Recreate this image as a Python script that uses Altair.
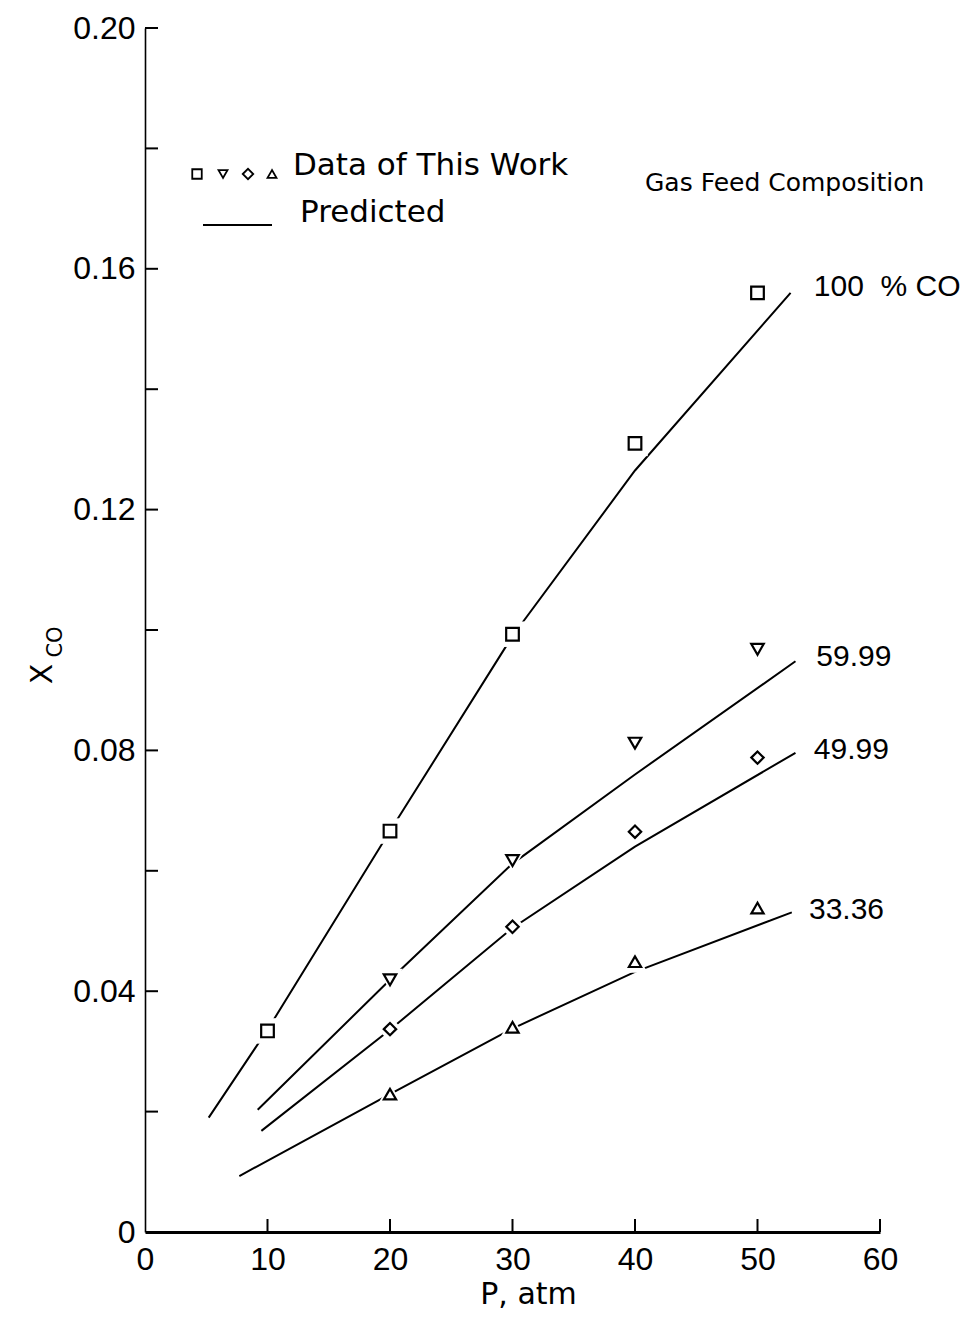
import altair as alt
import pandas as pd

# ---------------- data ----------------
series_names = ["100 % CO", "59.99", "49.99", "33.36"]
series_shapes = ["square", "triangle-down", "diamond", "triangle-up"]
series_sizes = [160, 150, 200, 150]

# measured points (Data of This Work)
obs_P_100 = [10, 20, 30, 40, 50]
obs_X_100 = [0.0334, 0.0666, 0.0993, 0.1310, 0.1560]
obs_P_60 = [20, 30, 40, 50]
obs_X_60 = [0.0419, 0.0617, 0.0812, 0.0968]
obs_P_50 = [20, 30, 40, 50]
obs_X_50 = [0.0337, 0.0507, 0.0665, 0.0788]
obs_P_33 = [20, 30, 40, 50]
obs_X_33 = [0.0229, 0.0340, 0.0449, 0.0538]

# predicted curves
pred_P_100 = [5.2, 10, 20, 30, 40, 52.7]
pred_X_100 = [0.0190, 0.0336, 0.0666, 0.0990, 0.1265, 0.1560]
pred_P_60 = [9.2, 20, 30, 40, 53.1]
pred_X_60 = [0.0203, 0.0419, 0.0612, 0.0760, 0.0948]
pred_P_50 = [9.5, 20, 30, 40, 53.1]
pred_X_50 = [0.0168, 0.0336, 0.0505, 0.0640, 0.0796]
pred_P_33 = [7.7, 20, 30, 40, 52.8]
pred_X_33 = [0.0093, 0.0229, 0.0338, 0.0432, 0.0531]

# curve labels
label_text = ["100 \u00a0% CO", "59.99", "49.99", "33.36"]
label_P = [54.6, 54.8, 54.6, 54.2]
label_X = [0.1570, 0.0955, 0.0800, 0.0535]

# axis ticks
x_tick_values = [0, 10, 20, 30, 40, 50, 60]
x_inner_ticks = [10, 20, 30, 40, 50, 60]
y_label_values = [0, 0.04, 0.08, 0.12, 0.16, 0.20]
y_inner_ticks = [0.02, 0.04, 0.06, 0.08, 0.10, 0.12, 0.14, 0.16, 0.18, 0.20]

legend_data_text = "Data of This Work"
legend_pred_text = "Predicted"
composition_title = "Gas Feed Composition"
x_title = "P, atm"

# ---------------- frames ----------------
obs_sets = [(obs_P_100, obs_X_100), (obs_P_60, obs_X_60), (obs_P_50, obs_X_50), (obs_P_33, obs_X_33)]
pred_sets = [(pred_P_100, pred_X_100), (pred_P_60, pred_X_60), (pred_P_50, pred_X_50), (pred_P_33, pred_X_33)]

obs_rows, pred_rows = [], []
for name, (ps, xs) in zip(series_names, obs_sets):
    for p, x in zip(ps, xs):
        obs_rows.append({"P": p, "XCO": x, "series": name})
for name, (ps, xs) in zip(series_names, pred_sets):
    for i, (p, x) in enumerate(zip(ps, xs)):
        pred_rows.append({"P": p, "XCO": x, "series": name, "order": i})
obs_df = pd.DataFrame(obs_rows)
pred_df = pd.DataFrame(pred_rows)
label_df = pd.DataFrame({"P": label_P, "XCO": label_X, "text": label_text})
xt_df = pd.DataFrame({"P": x_inner_ticks})
yt_df = pd.DataFrame({"XCO": y_inner_ticks})
one = pd.DataFrame({"k": [0]})

W, H = 735, 1204
TOP = 20
NUM_FONT = "Liberation Sans"
TXT_FONT = "DejaVu Sans"

x_enc = alt.X(
    "P:Q",
    scale=alt.Scale(domain=[0, 60], nice=False, zero=False),
    axis=alt.Axis(
        values=x_tick_values, ticks=False, grid=False, format="d",
        labelFont=NUM_FONT, labelFontSize=32, labelPadding=12, labelColor="black",
        labelFlush=False, labelOverlap=False,
        domainColor="black", domainWidth=3,
        title=x_title, titleFont=TXT_FONT, titleFontSize=30, titleFontWeight="normal",
        titleColor="black", titleX=383, titleY=62, titleBaseline="middle", titleAlign="center",
    ),
)
y_enc = alt.Y(
    "XCO:Q",
    scale=alt.Scale(domain=[0, 0.20], nice=False, zero=True),
    axis=alt.Axis(
        values=y_label_values, ticks=False, grid=False,
        labelExpr="datum.value == 0 ? '0' : format(datum.value, '.2f')",
        labelFont=NUM_FONT, labelFontSize=32, labelPadding=10, labelColor="black",
        labelFlush=False, labelOverlap=False, labelBaseline="middle",
        domainColor="black", domainWidth=1.6, title=None,
    ),
)

lines = alt.Chart(pred_df).mark_line(color="black", strokeWidth=2).encode(
    x=x_enc, y=y_enc, detail="series:N", order="order:Q"
)

shape_enc = alt.Shape("series:N", scale=alt.Scale(domain=series_names, range=series_shapes), legend=None)
size_enc = alt.Size("series:N", scale=alt.Scale(domain=series_names, range=series_sizes), legend=None)

halo = alt.Chart(obs_df).mark_point(filled=True, color="white", opacity=1, size=650, strokeWidth=0).encode(
    x="P:Q", y="XCO:Q", shape=shape_enc
)
points = alt.Chart(obs_df).mark_point(filled=False, color="black", strokeWidth=2.2, opacity=1).encode(
    x="P:Q", y="XCO:Q", shape=shape_enc, size=size_enc
)

x_ticks_layer = alt.Chart(xt_df).mark_rule(color="black", strokeWidth=2).encode(
    x="P:Q", y=alt.value(H), y2=alt.value(H - 13)
)
y_ticks_layer = alt.Chart(yt_df).mark_rule(color="black", strokeWidth=2).encode(
    y="XCO:Q", x=alt.value(0), x2=alt.value(13)
)

curve_labels = alt.Chart(label_df).mark_text(
    align="left", baseline="middle", font=NUM_FONT, fontSize=30, color="black"
).encode(x="P:Q", y="XCO:Q", text="text:N")

# legend (drawn)
leg_x = [52, 78, 103, 127]
leg_y = 154 - (TOP - 12)
leg_layers = []
for sx, shp, sz in zip(leg_x, series_shapes, [90, 80, 110, 80]):
    leg_layers.append(
        alt.Chart(one).mark_point(shape=shp, size=sz, filled=False, color="black", strokeWidth=1.8, opacity=1)
        .encode(x=alt.value(sx), y=alt.value(leg_y))
    )
leg_text1 = alt.Chart(one).mark_text(
    align="left", baseline="middle", font=TXT_FONT, fontSize=31, color="black"
).encode(x=alt.value(148), y=alt.value(leg_y - 8), text=alt.value(legend_data_text))
leg_line = alt.Chart(one).mark_rule(color="black", strokeWidth=2).encode(
    x=alt.value(58), x2=alt.value(127), y=alt.value(leg_y + 51)
)
leg_text2 = alt.Chart(one).mark_text(
    align="left", baseline="middle", font=TXT_FONT, fontSize=31, color="black"
).encode(x=alt.value(155), y=alt.value(leg_y + 39), text=alt.value(legend_pred_text))
comp_text = alt.Chart(one).mark_text(
    align="left", baseline="middle", font=TXT_FONT, fontSize=25, color="black"
).encode(x=alt.value(500), y=alt.value(leg_y + 9), text=alt.value(composition_title))

# y-axis title X_CO (rotated, with subscript)
ytitle_x = alt.Chart(one).mark_text(
    angle=270, align="center", baseline="middle", font=TXT_FONT, fontSize=30, color="black"
).encode(x=alt.value(-102), y=alt.value(654 - (TOP - 12)), text=alt.value("X"))
ytitle_co = alt.Chart(one).mark_text(
    angle=270, align="center", baseline="middle", font=TXT_FONT, fontSize=21, color="black"
).encode(x=alt.value(-89), y=alt.value(622 - (TOP - 12)), text=alt.value("CO"))

chart = alt.layer(
    lines, halo, points, x_ticks_layer, y_ticks_layer, curve_labels,
    *leg_layers, leg_text1, leg_line, leg_text2, comp_text, ytitle_x, ytitle_co,
).properties(
    width=W, height=H,
    autosize=alt.AutoSizeParams(type="none"),
    padding={"left": 137, "top": TOP, "right": 86, "bottom": 81},
    background="white",
).configure_view(stroke=None)

chart.save("out.html", embed_options={"renderer": "svg", "actions": False})
